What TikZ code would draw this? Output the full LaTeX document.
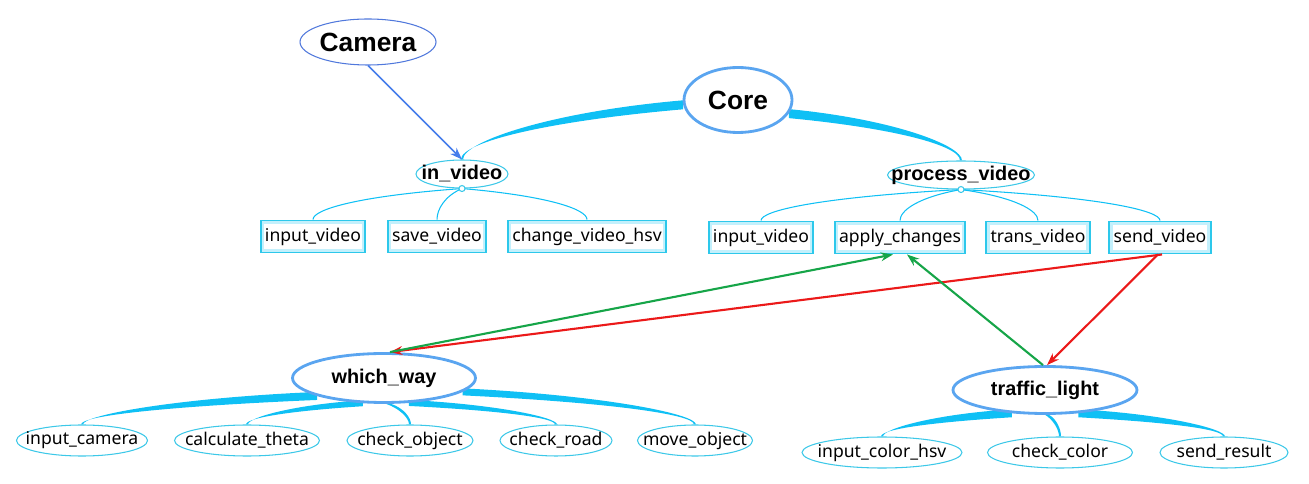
\documentclass[tikz,border=0pt]{standalone}
\usepackage{fontspec}
\setmainfont{Noto Sans}
\newfontfamily\headfont{Liberation Sans}
\usepackage{tikz}
\usetikzlibrary{shapes.geometric, calc, arrows.meta, backgrounds}

\definecolor{mainline}{RGB}{90,165,240}
\definecolor{leafline}{RGB}{60,200,232}
\definecolor{boxline}{RGB}{45,200,235}
\definecolor{boxglow}{RGB}{195,240,252}
\definecolor{branchcol}{RGB}{15,192,245}
\definecolor{camline}{RGB}{80,120,220}
\definecolor{camarrow}{RGB}{70,125,235}
\definecolor{gogreen}{RGB}{22,165,72}
\definecolor{stopred}{RGB}{235,25,25}

% tapered branch: start, end, half width
\newcommand{\branch}[3]{%
  \coordinate (k) at ($(#1-|#2)!0.35!(#2)$);
  \fill[branch] ($(#1)+(#3)$) .. controls ($(#1)!0.6!(k)+(#3)$) and ($(#2)!0.5!(k)+(0.02,0)$) .. ($(#2)+(0.02,0)$)
    -- ($(#2)-(0.02,0)$) .. controls ($(#2)!0.5!(k)-(0.02,0)$) and ($(#1)!0.6!(k)-(#3)$) .. ($(#1)-(#3)$) -- cycle;}
\newcommand{\twig}[2]{%
  \coordinate (k) at ($(#1-|#2)!0.35!(#2)$);
  \draw[twig] (#1) .. controls ($(#1)!0.7!(k)$) and ($(#2)!0.5!(k)$) .. (#2);}

\begin{document}
\begin{tikzpicture}[node distance=1.25cm, auto]

\tikzstyle{root} = [ellipse, draw=mainline, line width=1.6pt, fill=white, inner sep=-40pt, font=\headfont\bfseries\fontsize{15}{18}\selectfont]
\tikzstyle{module} = [ellipse, draw=leafline, line width=0.6pt, fill=white, inner sep=-40pt, minimum height=0.56cm, font=\headfont\bfseries\fontsize{11.3}{14}\selectfont]
\tikzstyle{unit} = [ellipse, draw=mainline, line width=1.6pt, fill=white, inner sep=-40pt, font=\headfont\bfseries\fontsize{11.3}{14}\selectfont]
\tikzstyle{leaf} = [ellipse, draw=leafline, line width=0.6pt, fill=white, inner sep=-40pt, minimum height=0.62cm, font=\fontsize{10}{12}\selectfont]
\tikzstyle{task} = [rectangle, draw=boxline, line width=1.1pt, fill=white, inner xsep=2.5pt, minimum height=0.64cm, font=\fontsize{10}{12}\selectfont,
  path picture={\draw[boxglow, line width=4pt] (path picture bounding box.south west) rectangle (path picture bounding box.north east);}]
\tikzstyle{dot} = [circle, draw=leafline, line width=0.6pt, fill=white, inner sep=0pt, minimum size=0.12cm]
\tikzstyle{branch} = [branchcol]
\tikzstyle{twig} = [draw=branchcol, line width=0.6pt]
\tikzstyle{feed} = [draw=camarrow, line width=0.9pt, -{Stealth[length=7pt, width=5pt]}]
\tikzstyle{goarrow} = [draw=gogreen, line width=1.2pt, -{Stealth[length=7pt, width=5pt]}]
\tikzstyle{stoparrow} = [draw=stopred, line width=1.2pt, -{Stealth[length=7pt, width=5pt]}]

\useasboundingbox (0,0) rectangle (26.18,-9.68);

\node (core) [root, minimum width=2.16cm, minimum height=1.30cm] at (14.76,-2.00) {Core};
\node (cam) [root, draw=camline, line width=0.6pt, minimum width=2.72cm, minimum height=0.92cm] at (7.36,-0.84) {Camera};
\node (invideo) [module, below of=core, xshift=-5.52cm, yshift=-0.23cm, minimum width=1.84cm] {in\_video};
\node (procvideo) [module, below of=core, xshift=4.46cm, yshift=-0.25cm, minimum width=2.94cm] {process\_video};
\node (ivdot) [dot] at (invideo.south) {};
\node (pvdot) [dot] at (procvideo.south) {};

\node (ivin) [task, below of=invideo, xshift=-2.98cm] {input\_video};
\node (ivsave) [task, below of=invideo, xshift=-0.50cm] {save\_video};
\node (ivhsv) [task, below of=invideo, xshift=2.50cm] {change\_video\_hsv};
\node (pvin) [task, below of=procvideo, xshift=-4.00cm] {input\_video};
\node (apply) [task, below of=procvideo, xshift=-1.22cm] {apply\_changes};
\node (trans) [task, below of=procvideo, xshift=1.54cm] {trans\_video};
\node (send) [task, below of=procvideo, xshift=3.98cm] {send\_video};

\node (whichway) [unit, minimum width=3.66cm, minimum height=0.98cm] at (7.68,-7.56) {which\_way};
\node (traffic) [unit, minimum width=3.68cm, minimum height=0.94cm] at (20.90,-7.80) {traffic\_light};

\node (incam) [leaf, below of=whichway, xshift=-6.04cm, minimum width=2.62cm] {input\_camera};
\node (theta) [leaf, below of=whichway, xshift=-2.74cm, minimum width=2.90cm] {calculate\_theta};
\node (chkobj) [leaf, below of=whichway, xshift=0.52cm, minimum width=2.52cm] {check\_object};
\node (chkroad) [leaf, below of=whichway, xshift=3.44cm, minimum width=2.24cm] {check\_road};
\node (moveobj) [leaf, below of=whichway, xshift=6.22cm, minimum width=2.30cm] {move\_object};
\node (incolor) [leaf, below of=traffic, xshift=-3.26cm, minimum width=3.20cm] {input\_color\_hsv};
\node (chkcolor) [leaf, below of=traffic, xshift=0.30cm, minimum width=2.90cm] {check\_color};
\node (sendres) [leaf, below of=traffic, xshift=3.58cm, minimum width=2.56cm] {send\_result};

\begin{pgfonlayer}{background}
\branch{core.185}{invideo.north}{0,0.09}
\branch{core.345}{procvideo.north}{0,0.09}
\branch{whichway.195}{incam.north}{0,0.08}
\branch{whichway.230}{theta.north}{0,0.06}
\branch{whichway.280}{chkobj.north}{0.05,0}
\branch{whichway.315}{chkroad.north}{0,0.06}
\branch{whichway.350}{moveobj.north}{0,0.07}
\branch{traffic.215}{incolor.north}{0,0.08}
\branch{traffic.275}{chkcolor.north}{0.04,0}
\branch{traffic.325}{sendres.north}{0,0.08}
\twig{ivdot.center}{ivin.north}
\twig{ivdot.center}{ivsave.north}
\twig{ivdot.center}{ivhsv.north}
\twig{pvdot.center}{pvin.north}
\twig{pvdot.center}{apply.north}
\twig{pvdot.center}{trans.north}
\twig{pvdot.center}{send.north}
\end{pgfonlayer}

\draw [feed] (cam.south) -- (invideo.north);
\draw [stoparrow] ($(send.south)+(0.04,0)$) -- ($(whichway.north)+(0.12,0)$);
\draw [stoparrow] ($(send.south)+(-0.04,0)$) -- ($(traffic.north)+(0.04,0)$);
\draw [goarrow] ($(whichway.north)+(0.12,0)$) -- ($(apply.south)+(-0.14,0)$);
\draw [goarrow] ($(traffic.north)+(-0.04,0)$) -- ($(apply.south)+(0.14,0)$);
\end{tikzpicture}
\end{document}
